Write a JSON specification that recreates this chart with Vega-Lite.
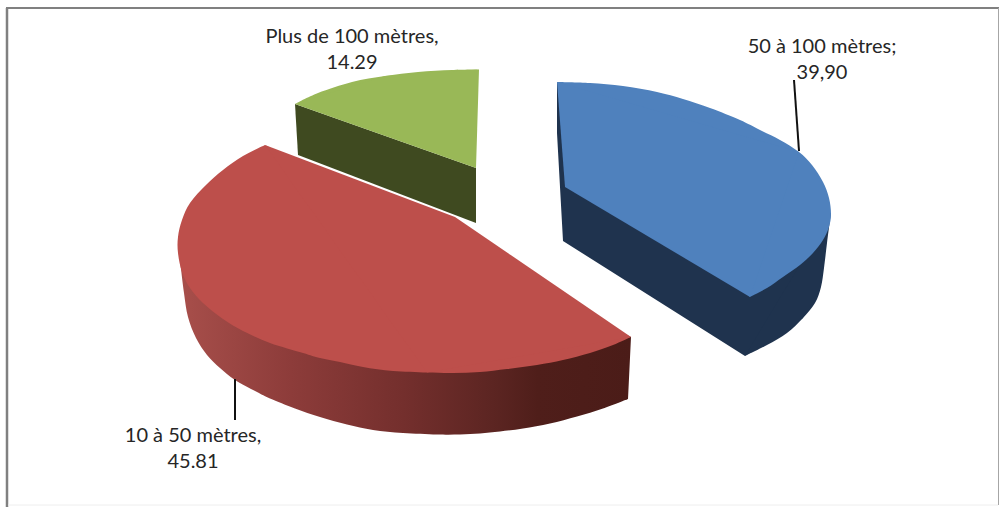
{
  "$schema": "https://vega.github.io/schema/vega-lite/v6.json",
  "width": 1000,
  "height": 507,
  "padding": 0,
  "autosize": "none",
  "background": "white",
  "config": {"view": {"stroke": null}},
  "datasets": {
    "frameLeft": [{"x": 7, "y": 8, "y2": 507}],
    "frameTop": [{"x": 6, "x2": 999, "y": 8}],
    "frameRight": [{"x": 998.5, "y": 8, "y2": 505}],
    "frameBottom": [{"x": 8, "x2": 998, "y": 505}],
    "greenSide": [
      {"n": 1, "x": 295, "y": 104}, {"n": 2, "x": 476, "y": 168}, {"n": 3, "x": 476, "y": 223}, {"n": 4, "x": 298, "y": 155}
    ],
    "greenRim": [
      {"n": 1, "x": 295, "y": 104}, {"n": 2, "x": 318, "y": 93}, {"n": 3, "x": 352, "y": 82},
      {"n": 4, "x": 385, "y": 76}, {"n": 5, "x": 418, "y": 72}, {"n": 6, "x": 452, "y": 70}, {"n": 7, "x": 479, "y": 69.5}
    ],
    "greenWedge": [
      {"n": 1, "x": 295, "y": 104}, {"n": 2, "x": 385, "y": 76}, {"n": 3, "x": 479, "y": 69.5}, {"n": 4, "x": 476, "y": 168}
    ],
    "redWallRim": [
      {"n": 1, "x": 178, "y": 240}, {"n": 2, "x": 180, "y": 260}, {"n": 3, "x": 184, "y": 293},
      {"n": 4, "x": 188, "y": 317}, {"n": 5, "x": 196, "y": 338}, {"n": 6, "x": 207, "y": 355}, {"n": 7, "x": 220, "y": 368},
      {"n": 8, "x": 235, "y": 380}, {"n": 9, "x": 257, "y": 392}, {"n": 10, "x": 270, "y": 398.5}, {"n": 11, "x": 295, "y": 408.5},
      {"n": 12, "x": 320, "y": 417}, {"n": 13, "x": 347, "y": 424.5}, {"n": 14, "x": 373, "y": 430}, {"n": 15, "x": 403, "y": 433},
      {"n": 16, "x": 437, "y": 434.5}, {"n": 17, "x": 460, "y": 434.5}, {"n": 18, "x": 480, "y": 433.5}, {"n": 19, "x": 500, "y": 431.5},
      {"n": 20, "x": 523, "y": 428.5}, {"n": 21, "x": 550, "y": 423.5}, {"n": 22, "x": 577, "y": 416.5}, {"n": 23, "x": 603, "y": 408.5},
      {"n": 24, "x": 628, "y": 399}
    ],
    "redWallBody": [
      {"n": 1, "x": 178, "y": 240}, {"n": 2, "x": 437, "y": 434}, {"n": 3, "x": 628, "y": 399}, {"n": 4, "x": 631, "y": 337}, {"n": 5, "x": 400, "y": 300}
    ],
    "redRim": [
      {"n": 1, "x": 631, "y": 337}, {"n": 2, "x": 613, "y": 345}, {"n": 3, "x": 590, "y": 353},
      {"n": 4, "x": 563, "y": 360}, {"n": 5, "x": 537, "y": 365}, {"n": 6, "x": 507, "y": 369}, {"n": 7, "x": 480, "y": 372},
      {"n": 8, "x": 453, "y": 373}, {"n": 9, "x": 427, "y": 372.5}, {"n": 10, "x": 393, "y": 371}, {"n": 11, "x": 363, "y": 367},
      {"n": 12, "x": 340, "y": 362}, {"n": 13, "x": 320, "y": 358}, {"n": 14, "x": 303, "y": 353}, {"n": 15, "x": 270, "y": 343},
      {"n": 16, "x": 243, "y": 331}, {"n": 17, "x": 223, "y": 319}, {"n": 18, "x": 203, "y": 303}, {"n": 19, "x": 190, "y": 288},
      {"n": 20, "x": 182, "y": 272}, {"n": 21, "x": 178, "y": 253}, {"n": 22, "x": 178, "y": 237}, {"n": 23, "x": 182, "y": 220},
      {"n": 24, "x": 190, "y": 203}, {"n": 25, "x": 206, "y": 185}, {"n": 26, "x": 223, "y": 170}, {"n": 27, "x": 243, "y": 156},
      {"n": 28, "x": 265, "y": 145}
    ],
    "redWedge": [
      {"n": 1, "x": 265, "y": 145}, {"n": 2, "x": 455, "y": 217}, {"n": 3, "x": 631, "y": 337}, {"n": 4, "x": 427, "y": 372.5}
    ],
    "blueWallRim": [
      {"n": 1, "x": 745, "y": 356}, {"n": 2, "x": 767, "y": 345}, {"n": 3, "x": 787, "y": 333}, {"n": 4, "x": 803, "y": 318},
      {"n": 5, "x": 815, "y": 303}, {"n": 6, "x": 821, "y": 287}, {"n": 7, "x": 824, "y": 268}, {"n": 8, "x": 827, "y": 243},
      {"n": 9, "x": 830, "y": 220}, {"n": 10, "x": 831, "y": 213}
    ],
    "blueWallBody": [
      {"n": 1, "x": 557, "y": 82}, {"n": 2, "x": 557, "y": 133}, {"n": 3, "x": 563, "y": 241}, {"n": 4, "x": 745, "y": 356},
      {"n": 5, "x": 803, "y": 318}, {"n": 6, "x": 831, "y": 213}, {"n": 7, "x": 700, "y": 200}
    ],
    "blueRim": [
      {"n": 1, "x": 557, "y": 82}, {"n": 2, "x": 590, "y": 83}, {"n": 3, "x": 623, "y": 86},
      {"n": 4, "x": 657, "y": 92}, {"n": 5, "x": 683, "y": 99}, {"n": 6, "x": 710, "y": 108}, {"n": 7, "x": 740, "y": 120},
      {"n": 8, "x": 760, "y": 130}, {"n": 9, "x": 780, "y": 140}, {"n": 10, "x": 799, "y": 152}, {"n": 11, "x": 812, "y": 165},
      {"n": 12, "x": 823, "y": 182}, {"n": 13, "x": 829, "y": 198}, {"n": 14, "x": 831, "y": 214}, {"n": 15, "x": 829, "y": 227},
      {"n": 16, "x": 823, "y": 240}, {"n": 17, "x": 813, "y": 253}, {"n": 18, "x": 800, "y": 265}, {"n": 19, "x": 783, "y": 277},
      {"n": 20, "x": 767, "y": 288}, {"n": 21, "x": 750, "y": 297}
    ],
    "blueWedge": [
      {"n": 1, "x": 557, "y": 82}, {"n": 2, "x": 799, "y": 152}, {"n": 3, "x": 750, "y": 297}, {"n": 4, "x": 565, "y": 187}
    ],
    "leaders": [
      {"slice": "50 à 100 mètres", "x": 794, "y": 80, "x2": 799, "y2": 151},
      {"slice": "10 à 50 mètres", "x": 235, "y": 379, "x2": 235, "y2": 420}
    ],
    "labels": [
      {"slice": "Plus de 100 mètres", "share": 14.29, "label": "Plus de 100 mètres,\n14.29", "x": 352, "y": 43},
      {"slice": "50 à 100 mètres", "share": 39.9, "label": "50 à 100 mètres;\n39,90", "x": 822, "y": 53},
      {"slice": "10 à 50 mètres", "share": 45.81, "label": "10 à 50 mètres,\n45.81", "x": 193, "y": 442}
    ]
  },
  "encoding": {
    "x": {"field": "x", "type": "quantitative", "scale": {"domain": [0, 1000], "nice": false, "zero": false}, "axis": null},
    "y": {"field": "y", "type": "quantitative", "scale": {"domain": [507, 0], "nice": false, "zero": false}, "axis": null}
  },
  "layer": [
    {"data": {"name": "frameLeft"}, "mark": {"type": "rule", "stroke": "#808080", "strokeWidth": 2.5}, "encoding": {"y2": {"field": "y2"}}},
    {"data": {"name": "frameTop"}, "mark": {"type": "rule", "stroke": "#808080", "strokeWidth": 2}, "encoding": {"x2": {"field": "x2"}}},
    {"data": {"name": "frameRight"}, "mark": {"type": "rule", "stroke": "#a6a6a6", "strokeWidth": 1}, "encoding": {"y2": {"field": "y2"}}},
    {"data": {"name": "frameBottom"}, "mark": {"type": "rule", "stroke": "#eeeeee", "strokeWidth": 1}, "encoding": {"x2": {"field": "x2"}}},
    {"data": {"name": "greenSide"}, "mark": {"type": "line", "interpolate": "linear-closed", "fill": "#3f4a20", "strokeWidth": 0}, "encoding": {"order": {"field": "n"}}},
    {"data": {"name": "greenRim"}, "mark": {"type": "line", "interpolate": "cardinal", "fill": "#99b857", "strokeWidth": 0}, "encoding": {"order": {"field": "n"}}},
    {"data": {"name": "greenWedge"}, "mark": {"type": "line", "interpolate": "linear-closed", "fill": "#99b857", "strokeWidth": 0}, "encoding": {"order": {"field": "n"}}},
    {"data": {"name": "blueWallBody"}, "mark": {"type": "line", "interpolate": "linear-closed", "fill": "#1f334e", "strokeWidth": 0}, "encoding": {"order": {"field": "n"}}},
    {"data": {"name": "blueWallRim"}, "mark": {"type": "line", "interpolate": "cardinal", "fill": "#1f334e", "strokeWidth": 0}, "encoding": {"order": {"field": "n"}}},
    {"data": {"name": "blueRim"}, "mark": {"type": "line", "interpolate": "cardinal", "fill": "#4f81bd", "strokeWidth": 0}, "encoding": {"order": {"field": "n"}}},
    {"data": {"name": "blueWedge"}, "mark": {"type": "line", "interpolate": "linear-closed", "fill": "#4f81bd", "strokeWidth": 0}, "encoding": {"order": {"field": "n"}}},
    {"data": {"name": "redWallBody"}, "mark": {"type": "line", "interpolate": "linear-closed", "strokeWidth": 0,
      "fill": {"gradient": "linear", "x1": 0, "y1": 0, "x2": 1, "y2": 0, "stops": [
        {"offset": 0, "color": "#a84f4b"},
        {"offset": 0.25, "color": "#8d3c3a"},
        {"offset": 0.5, "color": "#742f2d"},
        {"offset": 0.7, "color": "#5c2522"},
        {"offset": 0.8, "color": "#4f1e1a"},
        {"offset": 1, "color": "#4b1c18"}
      ]}}, "encoding": {"order": {"field": "n"}}},
    {"data": {"name": "redWallRim"}, "mark": {"type": "line", "interpolate": "cardinal", "strokeWidth": 0,
      "fill": {"gradient": "linear", "x1": 0, "y1": 0, "x2": 1, "y2": 0, "stops": [
        {"offset": 0, "color": "#a84f4b"},
        {"offset": 0.25, "color": "#8d3c3a"},
        {"offset": 0.5, "color": "#742f2d"},
        {"offset": 0.7, "color": "#5c2522"},
        {"offset": 0.8, "color": "#4f1e1a"},
        {"offset": 1, "color": "#4b1c18"}
      ]}}, "encoding": {"order": {"field": "n"}}},
    {"data": {"name": "redRim"}, "mark": {"type": "line", "interpolate": "cardinal", "fill": "#bd4f4b", "strokeWidth": 0}, "encoding": {"order": {"field": "n"}}},
    {"data": {"name": "redWedge"}, "mark": {"type": "line", "interpolate": "linear-closed", "fill": "#bd4f4b", "strokeWidth": 0}, "encoding": {"order": {"field": "n"}}},
    {"data": {"name": "leaders"}, "mark": {"type": "rule", "stroke": "#111111", "strokeWidth": 2}, "encoding": {"x2": {"field": "x2"}, "y2": {"field": "y2"}}},
    {"data": {"name": "labels"}, "mark": {"type": "text", "font": "Lato", "fontSize": 20, "fill": "#262626", "align": "center", "baseline": "alphabetic", "lineBreak": "\n", "lineHeight": 26}, "encoding": {"text": {"field": "label"}}}
  ]
}
